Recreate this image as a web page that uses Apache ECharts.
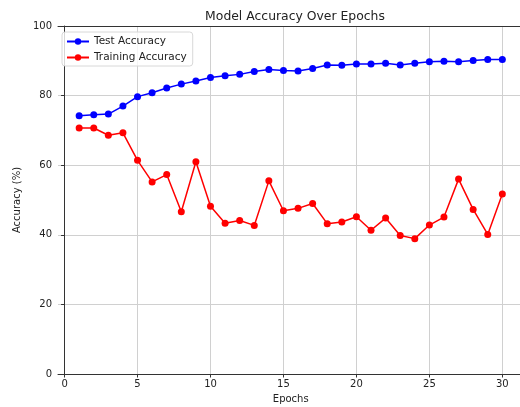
<!DOCTYPE html>
<html><head><meta charset="utf-8">
<script src="https://cdn.jsdelivr.net/npm/echarts@6/dist/echarts.min.js"></script>
<style>html,body{margin:0;padding:0;background:#fff}#c{width:520px;height:407px}</style>
</head><body><div id="c"></div>
<script>
const epochs = [1,2,3,4,5,6,7,8,9,10,11,12,13,14,15,16,17,18,19,20,21,22,23,24,25,26,27,28,29,30];
const testAcc = [74.2,74.5,74.7,77.0,79.7,80.8,82.2,83.3,84.2,85.2,85.7,86.1,86.9,87.5,87.2,87.1,87.8,88.8,88.7,89.1,89.1,89.3,88.8,89.3,89.7,89.9,89.7,90.1,90.4,90.4];
const trainAcc = [70.7,70.7,68.6,69.3,61.4,55.2,57.3,46.6,61.0,48.2,43.3,44.1,42.7,55.5,46.9,47.6,49.0,43.2,43.7,45.2,41.3,44.8,39.8,38.9,42.8,45.1,56.0,47.3,40.1,51.7];
const xTicks = [0,5,10,15,20,25,30];
const yTicks = [0,20,40,60,80,100];

const font = 'DejaVu Sans';
const chart = echarts.init(document.getElementById('c'), null, {renderer:'canvas'});
function mk(name, vals, color){
  return {
    name, type:'line', data: epochs.map((e,i)=>[e, vals[i]]),
    symbol:'circle', symbolSize:7, color,
    lineStyle:{color, width:1.5}, itemStyle:{color},
    animation:false
  };
}
chart.setOption({
  animation:false,
  textStyle:{fontFamily:font},
  title:{text:'Model Accuracy Over Epochs', left:290, top:6, textAlign:'center',
    textStyle:{fontFamily:font, fontSize:12.4, fontWeight:'normal', color:'#222'}},
  grid:{left:58, top:26, width:465.5, height:348, show:false,
    containLabel:false, outerBoundsMode:'none'},
  legend:{
    data:['Test Accuracy','Training Accuracy'], orient:'vertical', left:62, top:32,
    itemWidth:22, itemHeight:8, itemGap:5,
    backgroundColor:'rgba(255,255,255,0.8)', borderColor:'#d8d8d8', borderWidth:1, borderRadius:3,
    padding:[4,6,3,4],
    textStyle:{fontFamily:font, fontSize:10.5, color:'#222'}
  },
  xAxis:[{
    type:'value', min:-0.45, max:31.45,
    name:'Epochs', nameLocation:'middle', nameGap:20,
    nameTextStyle:{fontFamily:font, fontSize:10, color:'#222'},
    axisLine:{show:true, onZero:false, lineStyle:{color:'#333', width:1}},
    axisTick:{show:true, length:3.5, lineStyle:{color:'#333'}, customValues:xTicks},
    axisLabel:{customValues:xTicks, fontFamily:font, fontSize:10, color:'#222', margin:5},
    splitLine:{show:true, lineStyle:{color:'#d0d0d0', width:1}}
  },{
    type:'value', position:'top', min:-0.45, max:31.45,
    axisLine:{show:true, onZero:false, lineStyle:{color:'#333', width:1}},
    axisTick:{show:false}, axisLabel:{show:false}, splitLine:{show:false}
  }],
  yAxis:{
    type:'value', min:0, max:100, interval:20,
    name:'Accuracy (%)', nameLocation:'middle', nameGap:34, nameRotate:90,
    nameTextStyle:{fontFamily:font, fontSize:10, color:'#222'},
    axisLine:{show:true, lineStyle:{color:'#333', width:1}},
    axisTick:{show:true, length:3.5, lineStyle:{color:'#333'}},
    axisLabel:{fontFamily:font, fontSize:10, color:'#222', margin:6},
    splitLine:{show:true, lineStyle:{color:'#d0d0d0', width:1}}
  },
  series:[mk('Test Accuracy', testAcc, '#0000ff'), mk('Training Accuracy', trainAcc, '#ff0000')]
});
</script></body></html>
